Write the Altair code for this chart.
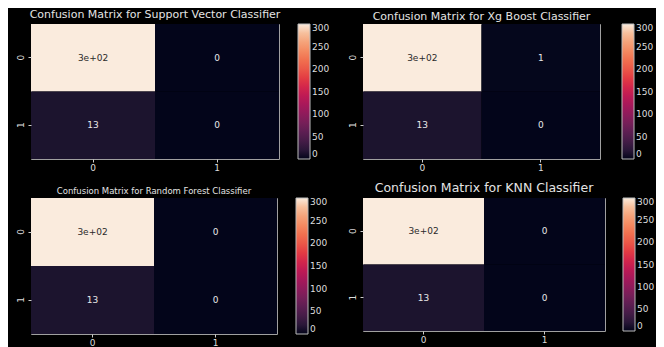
import altair as alt
import pandas as pd

# ---- data ----
actual = ["0", "0", "1", "1"]
predicted = ["0", "1", "0", "1"]
svc_values = [300, 0, 13, 0]
xgb_values = [300, 1, 13, 0]
rf_values = [300, 0, 13, 0]
knn_values = [300, 0, 13, 0]
svc_labels = ["3e+02", "0", "13", "0"]
xgb_labels = ["3e+02", "1", "13", "0"]
rf_labels = ["3e+02", "0", "13", "0"]
knn_labels = ["3e+02", "0", "13", "0"]
titles = [
    "Confusion Matrix for Support Vector Classifier",
    "Confusion Matrix for Xg Boost Classifier",
    "Confusion Matrix for Random Forest Classifier",
    "Confusion Matrix for KNN Classifier",
]
class_order = ["0", "1"]
legend_ticks = [0, 50, 100, 150, 200, 250, 300]
rocket_stops = [0, 25, 75, 125, 175, 225, 275, 300]
rocket_colors = ["#03051a", "#35193e", "#701f57", "#ad1759",
                 "#e13342", "#f37651", "#f6b48f", "#faebdd"]

FONT = "DejaVu Sans"


def panel(values, labels, title, w, h, tsize, toff, loff, fsize):
    df = pd.DataFrame({"actual": actual, "predicted": predicted,
                       "value": values, "label": labels})
    base = alt.Chart(df)
    xenc = alt.X("predicted:O", sort=class_order,
                 axis=alt.Axis(title=None, labelAngle=0, labelPadding=1))
    yenc = alt.Y("actual:O", sort=class_order,
                 axis=alt.Axis(title=None, labelAngle=270, labelPadding=3))
    rect = base.mark_rect().encode(
        x=xenc,
        y=yenc,
        color=alt.Color(
            "value:Q",
            title=None,
            scale=alt.Scale(domain=rocket_stops, range=rocket_colors, nice=False),
            legend=alt.Legend(values=legend_ticks, gradientLength=h,
                              offset=loff, orient="right"),
        ),
    )
    text = base.mark_text(fontSize=fsize, font=FONT).encode(
        x=xenc,
        y=yenc,
        text="label:N",
        color=alt.condition("datum.value > 150", alt.value("#2a2a2a"),
                            alt.value("#e8e8e8")),
    )
    return alt.layer(
        rect, text,
        title=alt.TitleParams(title, fontSize=tsize, offset=toff,
                              color="#e4e4e4", font=FONT, fontWeight="normal"),
    ).properties(width=w, height=h)


tl = panel(svc_values, svc_labels, titles[0], 248, 135, 11, 4, 19, 9)
tr = panel(xgb_values, xgb_labels, titles[1], 237, 135, 11, 2, 22, 9)
bl = panel(rf_values, rf_labels, titles[2], 246, 136, 8.5, 3, 19, 9)
br = panel(knn_values, knn_labels, titles[3], 242, 133, 12.5, 4, 18, 9)

chart = alt.concat(
    tl, tr, bl, br, columns=2,
    spacing={"row": 39, "column": 84},
    bounds="flush",
).resolve_scale(color="independent").properties(
    background="black",
    padding={"left": 7, "top": 0, "right": 0, "bottom": 2},
).configure_view(
    stroke="#a0a0a0", strokeWidth=1
).configure_axis(
    labelColor="#dddddd", tickColor="#cccccc", domain=False,
    labelFont=FONT, labelFontSize=9, tickSize=3,
).configure_legend(
    labelColor="#dddddd", labelFont=FONT, labelFontSize=9,
    gradientThickness=12, gradientStrokeColor="#bbbbbb",
    gradientStrokeWidth=1, labelOffset=4,
)

chart.save("out.html", embed_options={"renderer": "svg", "actions": False})
